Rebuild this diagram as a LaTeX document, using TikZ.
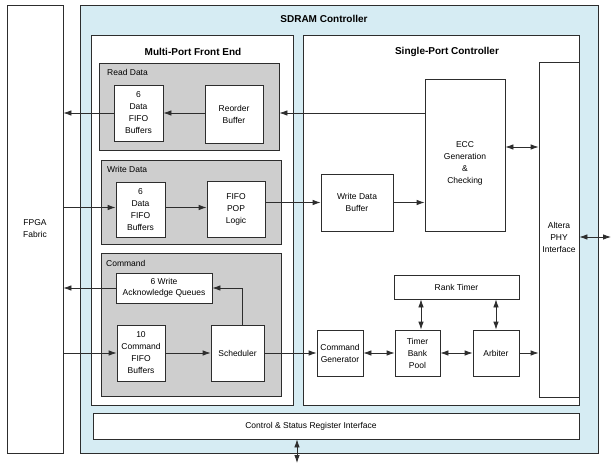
\documentclass[tikz,border=0pt]{standalone}
\usepackage{fontspec}
\setmainfont{Liberation Sans}
\usetikzlibrary{arrows.meta}
\definecolor{ctrlblue}{RGB}{214,236,243}
\definecolor{grpgray}{RGB}{206,206,206}
\definecolor{linec}{RGB}{45,45,45}
\newcommand\pbox[7]{\node[#1,minimum width={(#5-#3)*1pt},minimum height={(#6-#4)*1pt}] (#2) at ({(#3+#5)/2},{(#4+#6)/2}) {#7};}
\begin{document}
\begin{tikzpicture}[x=1pt,y=-1pt,
  box/.style={draw=linec,line width=0.8pt,fill=white,inner sep=0pt,align=center,font=\fontsize{8.5}{12}\selectfont},
  grp/.style={draw=linec,line width=0.8pt,fill=grpgray,inner sep=0pt},
  ctrl/.style={draw=linec,line width=0.8pt,fill=ctrlblue,inner sep=0pt},
  ttl/.style={font=\fontsize{10}{12}\selectfont\bfseries,inner sep=0pt},
  lbl/.style={font=\fontsize{8.5}{12}\selectfont,inner sep=0pt,align=center},
  arr/.style={draw=linec,line width=0.8pt,-{Latex[length=8pt,width=5.5pt]}},
  darr/.style={draw=linec,line width=0.8pt,{Latex[length=8pt,width=5.5pt]}-{Latex[length=8pt,width=5.5pt]}}]
\useasboundingbox (0,0) rectangle (611,463);
% outer blocks
\pbox{box}{fpga}{7}{5}{63}{453}{FPGA\\Fabric}
\pbox{ctrl}{sdram}{80}{5}{598}{453}{}
\node[ttl] (sdramt) at (324,19) {SDRAM Controller};
\pbox{box}{mpfe}{91}{35}{293}{405}{}
\node[ttl] (mpfet) at (193,52) {Multi-Port Front End};
\pbox{box}{spc}{303}{35}{579}{405}{}
\node[ttl] (spct) at (447,52) {Single-Port Controller};
% read data
\pbox{grp}{readg}{99}{63}{279}{150}{}
\node[lbl,anchor=west] (readl) at (107,72) {Read Data};
\pbox{box}{rfifo}{114}{85}{163}{141}{6\\Data\\FIFO\\Buffers}
\pbox{box}{reorder}{205}{85}{263}{143}{Reorder\\Buffer}
% write data
\pbox{grp}{writeg}{101}{160}{281}{244}{}
\node[lbl,anchor=west] (writel) at (107,169) {Write Data};
\pbox{box}{wfifo}{116}{182}{165}{237}{6\\Data\\FIFO\\Buffers}
\pbox{box}{fifopop}{207}{181}{265}{237}{FIFO\\POP\\Logic}
% command
\pbox{grp}{cmdg}{101}{253}{281}{396}{}
\node[lbl,anchor=west] (cmdl) at (106,263) {Command};
\pbox{box}{wack}{116}{273}{212}{303}{6 Write\\[-1pt]Acknowledge Queues}
\pbox{box}{cfifo}{117}{325}{165}{381}{10\\Command\\FIFO\\Buffers}
\pbox{box}{sched}{211}{325}{264}{381}{Scheduler}
% CSR
\pbox{box}{csr}{93}{413}{579}{439}{}
\node[lbl] (csrt) at (311,426) {Control \& Status Register Interface};
% single-port
\pbox{box}{ecc}{425}{79}{505}{231}{}
\node[lbl] (ecct) at (465,163) {ECC\\Generation\\\&\\Checking};
\pbox{box}{wdb}{321}{174}{393}{231}{Write Data\\Buffer}
\pbox{box}{phy}{539}{62}{579}{397}{}
\node[lbl] (phyt) at (559,237) {Altera\\PHY\\Interface};
\pbox{box}{rank}{394}{275}{519}{299}{Rank Timer}
\pbox{box}{cgen}{317}{330}{363}{376}{Command\\Generator}
\pbox{box}{tbp}{395}{330}{440}{376}{Timer\\Bank\\Pool}
\pbox{box}{arb}{473}{330}{519}{376}{Arbiter}
\coordinate (ext) at (611,237);
\coordinate (bot) at (297,463);
% read path
\draw[arr] (ecc.west |- rfifo.center) -- (readg.east |- rfifo.center);
\draw[arr] (reorder.west |- rfifo.center) -- (rfifo.east);
\draw[arr] (rfifo.west) -- (fpga.east |- rfifo.west);
% write path
\draw[arr] ([yshift=2pt]fpga.east |- wfifo.west) -- ([yshift=2pt]wfifo.west);
\draw[arr] ([yshift=2pt]wfifo.east) -- ([yshift=2pt]fifopop.west |- wfifo.east);
\draw[arr] (fifopop.east |- wdb.west) -- (wdb.west);
\draw[arr] (wdb.east) -- (ecc.west |- wdb.east);
\draw[darr] ([yshift=8pt]ecc.east) -- ([yshift=8pt]phy.west |- ecc.east);
\draw[darr] (phy.east |- ext) -- (ext);
% command path
\draw[arr] ([xshift=4.5pt]sched.north) -- ([xshift=4.5pt]sched.north |- wack.east) -- (wack.east);
\draw[arr] (wack.west) -- (fpga.east |- wack.west);
\draw[arr] (fpga.east |- cfifo.west) -- (cfifo.west);
\draw[arr] (cfifo.east) -- (sched.west);
\draw[arr] (sched.east) -- (cgen.west |- sched.east);
\draw[darr] (cgen.east) -- (tbp.west);
\draw[darr] (tbp.east) -- (arb.west);
\draw[arr] (arb.east) -- (phy.west |- arb.east);
\draw[darr] ([xshift=3.5pt]tbp.north |- rank.south) -- ([xshift=3.5pt]tbp.north);
\draw[darr] (arb.north |- rank.south) -- (arb.north);
\draw[darr] (csr.south -| bot) -- (bot);
\end{tikzpicture}
\end{document}
